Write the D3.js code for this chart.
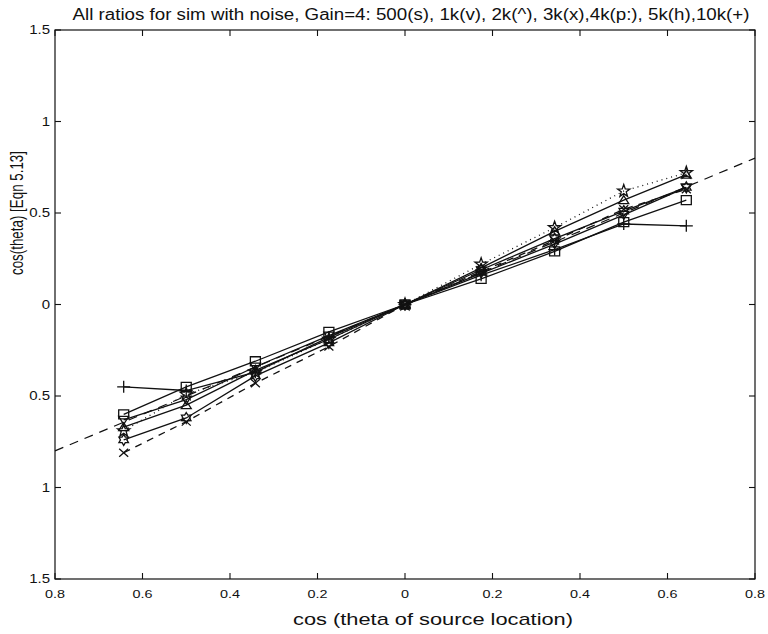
<!DOCTYPE html>
<html>
<head>
<meta charset="utf-8">
<script src="https://cdn.jsdelivr.net/npm/d3@7"></script>
<style>
  body { margin: 0; background: #fff; }
  text { font-family: "Liberation Sans", Arial, Helvetica, sans-serif; fill: #111; }
</style>
</head>
<body>
<div id="chart"></div>
<script>
// source positions: cos of 50..130 degrees
var cosSource = [-0.643, -0.5, -0.342, -0.174, 0, 0.174, 0.342, 0.5, 0.643];

// estimated cos(theta) per frequency
var f500  = [-0.60, -0.45, -0.31, -0.15, 0, 0.14, 0.29, 0.45, 0.57];
var f1k   = [-0.63, -0.52, -0.34, -0.17, 0, 0.17, 0.33, 0.49, 0.64];
var f2k   = [-0.67, -0.55, -0.36, -0.19, 0, 0.20, 0.40, 0.57, 0.71];
var f3k   = [-0.81, -0.64, -0.43, -0.23, 0, 0.18, 0.35, 0.52, 0.63];
var f4k   = [-0.69, -0.49, -0.37, -0.19, 0, 0.22, 0.42, 0.62, 0.72];
var f5k   = [-0.74, -0.62, -0.39, -0.21, 0, 0.19, 0.36, 0.51, 0.64];
var f10k  = [-0.45, -0.47, -0.37, -0.18, 0, 0.16, 0.30, 0.44, 0.43];

// ideal line
var refX = [-0.8, 0.8];
var refY = [-0.8, 0.8];

var xTicks = [-0.8, -0.6, -0.4, -0.2, 0, 0.2, 0.4, 0.6, 0.8];
var xTickLabels = ["0.8", "0.6", "0.4", "0.2", "0", "0.2", "0.4", "0.6", "0.8"];
var yTicks = [-1.5, -1, -0.5, 0, 0.5, 1, 1.5];
var yTickLabels = ["1.5", "1", "0.5", "0", "0.5", "1", "1.5"];

var titleText = "All ratios for sim with noise, Gain=4: 500(s), 1k(v), 2k(^), 3k(x),4k(p:), 5k(h),10k(+)";
var xLabelText = "cos (theta of source location)";
var yLabelText = "cos(theta) [Eqn 5.13]";

var series = [
  {name: "500", values: f500, marker: "square", dash: null},
  {name: "1k", values: f1k, marker: "triDown", dash: null},
  {name: "2k", values: f2k, marker: "triUp", dash: null},
  {name: "3k", values: f3k, marker: "cross", dash: "7,6"},
  {name: "4k", values: f4k, marker: "penta", dash: "1,4"},
  {name: "5k", values: f5k, marker: "hexa", dash: null},
  {name: "10k", values: f10k, marker: "plus", dash: null}
];

var width = 768, height = 634;
var margin = {top: 30, right: 13, bottom: 55, left: 55};
var plotW = width - margin.left - margin.right,
    plotH = height - margin.top - margin.bottom;

var svg = d3.select("#chart").append("svg")
    .attr("width", width)
    .attr("height", height);

var x = d3.scaleLinear().domain([-0.8, 0.8]).range([margin.left, margin.left + plotW]);
var y = d3.scaleLinear().domain([-1.5, 1.5]).range([margin.top + plotH, margin.top]);

// the scan is wider than it is tall, so text gets stretched a bit
function stretch(sel, k) {
  sel.each(function() {
    var w = this.getComputedTextLength();
    d3.select(this).attr("textLength", w * k).attr("lengthAdjust", "spacingAndGlyphs");
  });
}

// star polygon, used for both pentagram and hexagram
function starPath(n, r1, r2) {
  var pts = [];
  for (var i = 0; i < 2 * n; i++) {
    var a = -Math.PI / 2 + i * Math.PI / n;
    var r = (i % 2 == 0) ? r1 : r2;
    pts.push([r * Math.cos(a), r * Math.sin(a)]);
  }
  return "M" + pts.join("L") + "Z";
}

function markerPath(type) {
  switch (type) {
    case "square": return "M-5,-4.5H5V4.5H-5Z";
    case "triDown": return "M-5,-3.5H5L0,4.5Z";
    case "triUp": return "M-5,3.5H5L0,-4.5Z";
    case "cross": return "M-4.5,-4L4.5,4M-4.5,4L4.5,-4";
    case "plus": return "M-6.5,0H6.5M0,-6V6";
    case "penta": return starPath(5, 6.5, 2.6);
    case "hexa": return starPath(6, 5.5, 3.2);
  }
}

// axes box
svg.append("rect")
    .attr("x", margin.left)
    .attr("y", margin.top)
    .attr("width", plotW)
    .attr("height", plotH)
    .style("fill", "none")
    .style("stroke", "#111")
    .style("stroke-width", 1.2);

// inward ticks on all four sides
var tickLen = 6;
var ticks = svg.append("g").style("stroke", "#111").style("stroke-width", 1.1);
xTicks.forEach(function(t) {
  ticks.append("line").attr("x1", x(t)).attr("x2", x(t))
      .attr("y1", y(-1.5)).attr("y2", y(-1.5) - tickLen);
  ticks.append("line").attr("x1", x(t)).attr("x2", x(t))
      .attr("y1", y(1.5)).attr("y2", y(1.5) + tickLen);
});
yTicks.forEach(function(t) {
  ticks.append("line").attr("x1", x(-0.8)).attr("x2", x(-0.8) + tickLen)
      .attr("y1", y(t)).attr("y2", y(t));
  ticks.append("line").attr("x1", x(0.8)).attr("x2", x(0.8) - tickLen)
      .attr("y1", y(t)).attr("y2", y(t));
});

// tick labels
svg.append("g").selectAll("text")
    .data(xTicks)
    .enter().append("text")
    .attr("x", function(d) { return x(d); })
    .attr("y", 598)
    .attr("text-anchor", "middle")
    .style("font-size", "11.5px")
    .text(function(d, i) { return xTickLabels[i]; })
    .call(stretch, 1.25);

svg.append("g").selectAll("text")
    .data(yTicks)
    .enter().append("text")
    .attr("x", 50)
    .attr("y", function(d) { return y(d); })
    .attr("dy", "0.36em")
    .attr("text-anchor", "end")
    .style("font-size", "12px")
    .text(function(d, i) { return yTickLabels[i]; })
    .call(stretch, 1.25);

// title and axis labels
svg.append("text")
    .attr("x", 411)
    .attr("y", 20)
    .attr("text-anchor", "middle")
    .style("font-size", "16px")
    .text(titleText)
    .attr("textLength", 677)
    .attr("lengthAdjust", "spacingAndGlyphs");

svg.append("text")
    .attr("x", 433)
    .attr("y", 625)
    .attr("text-anchor", "middle")
    .style("font-size", "17px")
    .text(xLabelText)
    .attr("textLength", 280)
    .attr("lengthAdjust", "spacingAndGlyphs");

svg.append("text")
    .attr("transform", "translate(23,213) rotate(-90)")
    .attr("text-anchor", "middle")
    .style("font-size", "18px")
    .text(yLabelText)
    .attr("textLength", 124)
    .attr("lengthAdjust", "spacingAndGlyphs");

// plotting area
var plot = svg.append("g");

var line = d3.line()
    .x(function(d) { return x(d[0]); })
    .y(function(d) { return y(d[1]); });

plot.append("path")
    .attr("d", line(d3.zip(refX, refY)))
    .style("fill", "none")
    .style("stroke", "#111")
    .style("stroke-width", 1.2)
    .style("stroke-dasharray", "9,7");

series.forEach(function(s) {
  var pts = d3.zip(cosSource, s.values);
  plot.append("path")
      .attr("d", line(pts))
      .style("fill", "none")
      .style("stroke", "#111")
      .style("stroke-width", 1.3)
      .style("stroke-dasharray", s.dash);

  plot.append("g").selectAll("path")
      .data(pts)
      .enter().append("path")
      .attr("transform", function(d) { return "translate(" + [x(d[0]), y(d[1])] + ")"; })
      .attr("d", markerPath(s.marker))
      .style("fill", "none")
      .style("stroke", "#111")
      .style("stroke-width", 1.3);
});
</script>
</body>
</html>
